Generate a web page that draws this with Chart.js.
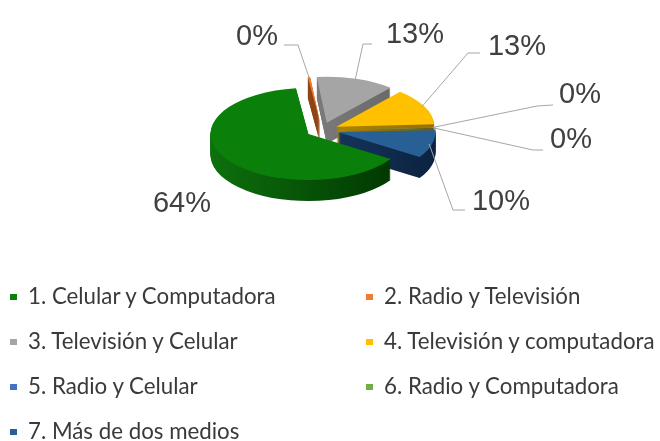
<!DOCTYPE html>
<html>
<head>
<meta charset="utf-8">
<script src="https://cdn.jsdelivr.net/npm/chart.js@4.4.0/dist/chart.umd.min.js"></script>
<style>
  html, body { margin: 0; padding: 0; background: #fff; }
  #wrap { position: relative; width: 660px; height: 441px; overflow: hidden; }
  #wrap canvas { position: absolute; left: 0; top: 0; }
  #legend {
    position: absolute; left: 10px; top: 274px;
    display: grid; grid-template-columns: 356px 294px; grid-auto-rows: 45px;
    font-family: Lato, "Open Sans", sans-serif; font-size: 22.3px; color: #3a3a3a;
  }
  .item { display: flex; align-items: center; white-space: nowrap; }
  .item span.txt { position: relative; top: -1px; }
  .box { width: 7px; height: 6px; margin-right: 11px; flex: none; }
</style>
</head>
<body>
<div id="wrap">
  <canvas id="myChart" width="660" height="441"></canvas>
  <div id="legend"></div>
</div>
<script>
// data
const categories = [
  "1. Celular y Computadora",
  "2. Radio y Televisión",
  "3. Televisión y Celular",
  "4. Televisión y computadora",
  "5. Radio y Celular",
  "6. Radio y Computadora",
  "7. Más de dos medios",
];
const values = [63.8, 0.4, 12.9, 12.9, 0.1, 0.1, 9.8];

// styles
const colors = ["#0a800a", "#ED7D31", "#A5A5A5", "#FFC000", "#4472C4", "#70AD47", "#285F95"];
const sideColors = [
  ["#0d700d", "#003400"],
  ["#a8531a", "#6e330c"],
  ["#8e8e8e", "#626262"],
  ["#c99800", "#946f00"],
  ["#2f5597", "#1d3560"],
  ["#4e7a30", "#345220"],
  ["#1d4672", "#0c2240"],
];
// label text position (center x, baseline y) and leader line bends, in px
const labelLayout = [
  { x: 182, y: 212, line: null },
  { x: 257, y: 45, line: [[298, 45], [284, 45]] },
  { x: 415, y: 43, line: [[363, 44], [372, 44]] },
  { x: 517, y: 55, line: [[468, 53], [480, 53]] },
  { x: 580, y: 103, line: [[537, 106], [553, 105]] },
  { x: 571, y: 148, line: [[533, 150], [543, 150]] },
  { x: 501, y: 210, line: [[453, 210], [465, 210]] },
];

const SQUASH = 0.47;   // vertical tilt of the pie
const DEPTH = 21;      // thickness in px
const EXPLODE = 16;    // slice explode in px

function squash(ctx, cx, cy, dy) {
  ctx.translate(cx, cy + dy);
  ctx.scale(1, SQUASH);
  ctx.translate(-cx, -cy);
}

function shift(el) {
  const a = (el.startAngle + el.endAngle) / 2;
  return [Math.cos(a) * EXPLODE, Math.sin(a) * EXPLODE];
}

const pie3d = {
  id: "pie3d",
  beforeDatasetsDraw(chart) {
    const ctx = chart.ctx;
    const arcs = chart.getDatasetMeta(0).data;
    const cx = arcs[0].x, cy = arcs[0].y, r = arcs[0].outerRadius;
    const order = arcs.map((el, i) => i).sort((a, b) => {
      const ma = (arcs[a].startAngle + arcs[a].endAngle) / 2;
      const mb = (arcs[b].startAngle + arcs[b].endAngle) / 2;
      return Math.sin(ma) - Math.sin(mb);
    });
    // sides
    for (let k = DEPTH; k >= 1; k--) {
      order.forEach((i) => {
        const el = arcs[i];
        const [dx, dy] = shift(el);
        ctx.save();
        squash(ctx, cx, cy, k);
        ctx.translate(dx, dy);
        const g = ctx.createLinearGradient(cx - r, 0, cx + r, 0);
        g.addColorStop(0, sideColors[i][0]);
        g.addColorStop(1, sideColors[i][1]);
        const fake = Object.create(el);
        fake.options = Object.assign({}, el.options, { backgroundColor: g, borderWidth: 0 });
        el.draw.call(fake, ctx);
        ctx.restore();
      });
    }
    // tops
    order.forEach((i) => {
      const el = arcs[i];
      const [dx, dy] = shift(el);
      ctx.save();
      squash(ctx, cx, cy, 0);
      ctx.translate(dx, dy);
      el.draw(ctx);
      ctx.restore();
    });
    return false;
  },
  afterDraw(chart) {
    const ctx = chart.ctx;
    const arcs = chart.getDatasetMeta(0).data;
    const total = values.reduce((s, v) => s + v, 0);
    ctx.save();
    ctx.font = "29px 'Liberation Sans', Arial, sans-serif";
    ctx.fillStyle = "#404040";
    ctx.textAlign = "center";
    ctx.textBaseline = "alphabetic";
    arcs.forEach((el, i) => {
      const lay = labelLayout[i];
      const a = (el.startAngle + el.endAngle) / 2;
      const [dx, dy] = shift(el);
      const ax = el.x + dx + Math.cos(a) * el.outerRadius * 0.97;
      const ay = el.y + (dy + Math.sin(a) * el.outerRadius * 0.97) * SQUASH;
      if (lay.line) {
        ctx.beginPath();
        ctx.strokeStyle = "#a6a6a6";
        ctx.lineWidth = 1;
        ctx.moveTo(ax, ay);
        lay.line.forEach((p) => ctx.lineTo(p[0], p[1]));
        ctx.stroke();
      }
      const pct = Math.round((values[i] / total) * 100) + "%";
      ctx.fillText(pct, lay.x, lay.y);
    });
    ctx.restore();
  },
};

const ctx = document.getElementById("myChart").getContext("2d");
const myChart = new Chart(ctx, {
  type: "pie",
  data: {
    labels: categories,
    datasets: [
      {
        data: values,
        backgroundColor: colors,
        borderWidth: 0,
      },
    ],
  },
  options: {
    responsive: false,
    animation: false,
    rotation: 123,
    radius: 98,
    layout: { padding: { left: 0, right: 16, top: 10, bottom: 191 } },
    plugins: {
      legend: { display: false },
      tooltip: { enabled: false },
    },
  },
  plugins: [pie3d],
});

// html legend
const legend = document.getElementById("legend");
categories.forEach((cat, i) => {
  const item = document.createElement("div");
  item.className = "item";
  const box = document.createElement("span");
  box.className = "box";
  box.style.background = colors[i];
  const txt = document.createElement("span");
  txt.className = "txt";
  txt.textContent = cat;
  item.appendChild(box);
  item.appendChild(txt);
  legend.appendChild(item);
});
</script>
</body>
</html>
